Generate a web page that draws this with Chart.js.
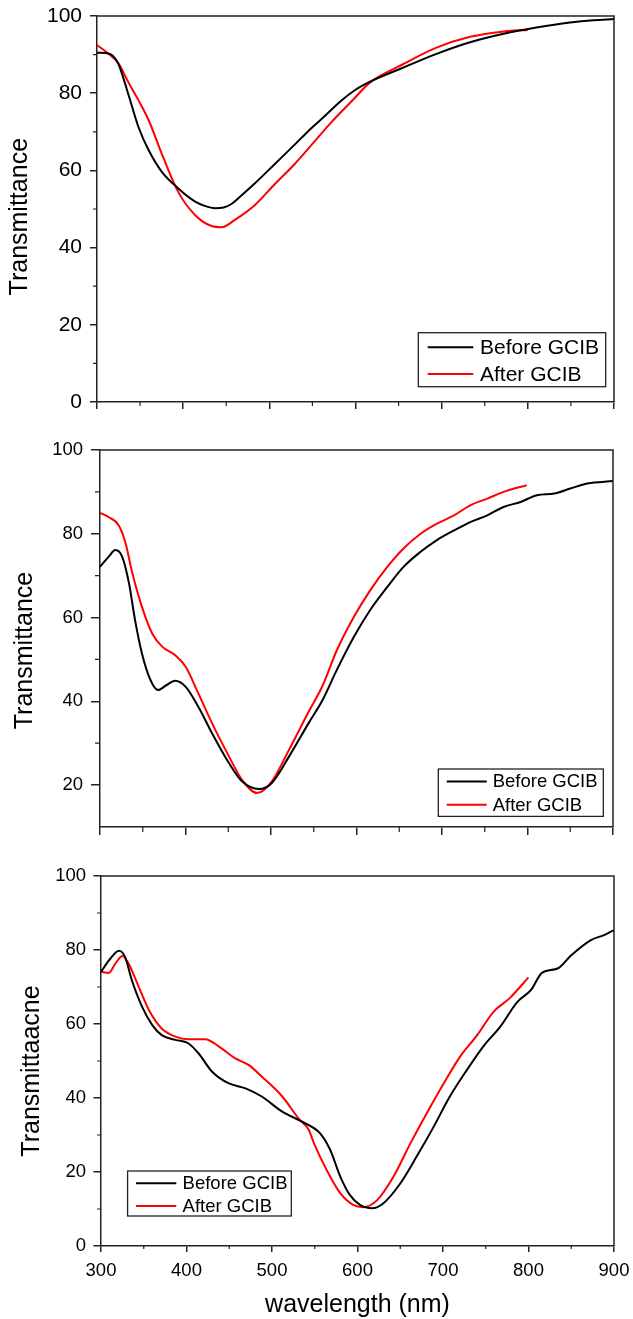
<!DOCTYPE html>
<html>
<head>
<meta charset="utf-8">
<script src="https://cdn.jsdelivr.net/npm/chart.js@4.4.0/dist/chart.umd.min.js"></script>
<style>
  html,body{margin:0;padding:0;background:#fff;}
  body{width:633px;height:1319px;position:relative;overflow:hidden;}
  canvas{position:absolute;left:0;}
</style>
</head>
<body>
<canvas id="c1" width="633" height="420" style="top:0px"></canvas>
<canvas id="c2" width="633" height="420" style="top:420px"></canvas>
<canvas id="c3" width="633" height="479" style="top:840px"></canvas>
<script>
// ---------- DATA ----------
const seriesLabels = ["Before GCIB", "After GCIB"];
const yTitles = ["Transmittance", "Transmittance", "Transmittaacne"];
const xTitle = "wavelength (nm)";
const xTickLabels = [300, 400, 500, 600, 700, 800, 900];
const yTickLabelsFull = [0, 20, 40, 60, 80, 100];
const yTickLabelsMid = [20, 40, 60, 80, 100];

// Panel 1
const p1BeforeWl = [300,310,318,325,336,348,360,375,394,414,425,437,447,456,464,483,507,530,549,565,582,600,617,655,694,733,772,810,849,876,900];
const p1BeforeT  = [90.5,90.4,89.8,87.5,80.0,71.3,65.2,59.7,55.4,51.9,50.8,50.2,50.4,51.3,52.8,56.6,61.8,66.8,71.0,74.2,77.8,80.9,83.0,86.6,90.2,93.2,95.4,97.0,98.3,98.9,99.2];
const p1AfterWl  = [300,313,325,336,348,360,375,394,414,433,445,460,483,507,530,549,570,598,617,655,694,733,772,800];
const p1AfterT   = [92.5,90.3,87.7,83.0,78.2,73.0,64.4,54.5,48.4,45.6,45.3,47.2,51.0,56.6,61.8,66.6,72.0,78.5,82.8,87.5,91.8,94.6,96.0,96.4];

// Panel 2
const p2BeforeWl = [300,310,318,326,334,341,349,359,368,378,388,400,415,431,451,466,486,501,521,544,560,577,597,616,636,655,675,694,714,733,753,772,792,811,831,850,870,900];
const p2BeforeT  = [72.1,74.5,76.1,74.5,68.1,59.4,51.5,45.1,42.7,43.9,44.9,43.5,38.7,32.4,25.2,20.9,19.05,20.5,26.8,34.8,40.2,47.5,55.4,61.8,67.3,72.1,75.7,78.5,80.8,82.8,84.4,86.4,87.6,89.2,89.6,90.8,92.0,92.6];
const p2AfterWl  = [300,310,322,330,337,349,361,373,388,400,415,431,451,466,484,501,521,544,560,577,597,616,636,655,675,694,714,733,753,772,799];
const p2AfterT   = [85.0,84.0,82.0,77.7,71.3,62.6,56.2,53.0,51.0,48.3,41.9,34.8,26.8,21.3,18.1,20.9,28.4,37.5,43.6,52.2,60.2,66.5,72.1,76.5,80.0,82.4,84.4,86.8,88.4,90.0,91.6];

// Panel 3
const p3BeforeWl = [300,311,321,328,336,348,360,371,387,402,414,430,449,469,488,512,535,556,568,580,591,603,617,630,650,669,689,708,728,747,767,787,803,816,834,850,873,889,900];
const p3BeforeT  = [74.1,77.7,79.8,78.2,71.9,64.7,59.7,57.0,55.7,54.8,52.1,47.1,44.0,42.6,40.4,36.3,33.6,30.5,26.0,18.7,13.8,11.1,10.2,11.5,16.9,24.1,32.2,40.4,47.6,53.9,59.3,66.0,69.2,73.9,75.0,78.6,82.7,84.1,85.4];
const p3AfterWl  = [300,309,317,325,332,344,356,371,387,402,422,438,457,473,488,512,531,543,549,564,580,595,607,623,642,662,681,701,720,740,759,778,800];
const p3AfterT   = [74.1,73.8,76.4,78.4,76.4,70.1,63.8,58.8,56.6,55.9,55.9,53.9,50.7,48.9,45.8,40.4,34.5,31.4,27.8,20.5,14.2,11.1,10.5,12.4,18.7,27.8,35.9,44.0,51.2,57.0,63.3,67.0,72.6];

// ---------- HELPERS ----------
const FONT = "'Liberation Sans', Arial, Helvetica, sans-serif";
const AXIS_COLOR = '#222';
const pts = (xs, ys) => xs.map((x, i) => ({x: x, y: ys[i]}));

const framePlugin = {
  id: 'frame',
  afterDraw(chart, args, opts) {
    const a = chart.chartArea, ctx = chart.ctx;
    ctx.save();
    ctx.strokeStyle = AXIS_COLOR;
    ctx.lineWidth = 1.5;
    ctx.beginPath();
    ctx.moveTo(a.left, a.top); ctx.lineTo(a.right, a.top); ctx.lineTo(a.right, a.bottom);
    ctx.stroke();
    const xs = chart.scales.x, ys = chart.scales.y;
    ctx.lineWidth = 1.2;
    ctx.beginPath();
    for (let v = xs.min + opts.xMinorStep; v < xs.max; v += opts.xMinorStep) {
      if (Math.abs(v % opts.xMajorStep) < 1e-6) continue;
      const px = xs.getPixelForValue(v);
      ctx.moveTo(px, a.bottom); ctx.lineTo(px, a.bottom + opts.xMinorLen);
    }
    for (let v = ys.min; v < ys.max; v += opts.yMinorStep) {
      if (Math.abs(v % opts.yMajorStep) < 1e-6 || v === ys.min) continue;
      const py = ys.getPixelForValue(v);
      ctx.moveTo(a.left, py); ctx.lineTo(a.left - opts.yMinorLen, py);
    }
    ctx.stroke();
    ctx.fillStyle = '#000';
    ctx.font = opts.yTitleSize + 'px ' + FONT;
    ctx.textAlign = 'center';
    ctx.textBaseline = 'middle';
    ctx.translate(opts.yTitleX, (a.top + a.bottom) / 2 + opts.yTitleDy);
    ctx.rotate(-Math.PI / 2);
    ctx.fillText(opts.yTitle, 0, 0);
    ctx.restore();
  }
};

const boxLegendPlugin = {
  id: 'boxLegend',
  afterDraw(chart, args, o) {
    const a = chart.chartArea, ctx = chart.ctx;
    const bx = (o.anchorX === 'right' ? a.right : a.left) + o.dx;
    const by = a.bottom + o.dy;
    ctx.save();
    ctx.fillStyle = '#fff';
    ctx.fillRect(bx, by, o.w, o.h);
    ctx.strokeStyle = AXIS_COLOR;
    ctx.lineWidth = 1.3;
    ctx.strokeRect(bx, by, o.w, o.h);
    ctx.font = o.fontSize + 'px ' + FONT;
    ctx.textBaseline = 'middle';
    ctx.textAlign = 'left';
    chart.data.datasets.forEach((ds, i) => {
      const ry = by + o.rows[i];
      ctx.strokeStyle = ds.borderColor;
      ctx.lineWidth = 2;
      ctx.beginPath();
      ctx.moveTo(bx + o.lineFrom, ry); ctx.lineTo(bx + o.lineTo, ry);
      ctx.stroke();
      ctx.fillStyle = '#000';
      ctx.fillText(ds.label, bx + o.textX, ry + 1);
    });
    ctx.restore();
  }
};

function makePanel(id, cfg) {
  const datasets = [
    {label: seriesLabels[0], data: cfg.before, borderColor: '#000000'},
    {label: seriesLabels[1], data: cfg.after, borderColor: '#ff0000'}
  ].map(d => Object.assign(d, {borderWidth: 2, pointRadius: 0, fill: false, cubicInterpolationMode: 'monotone'}));

  return new Chart(document.getElementById(id), {
    type: 'line',
    data: {datasets},
    plugins: [framePlugin, boxLegendPlugin],
    options: {
      responsive: false,
      animation: false,
      events: [],
      layout: {autoPadding: false, padding: {top: cfg.padTop, right: cfg.padRight, left: 0, bottom: 0}},
      plugins: {
        legend: {display: false},
        tooltip: {enabled: false},
        frame: cfg.frame,
        boxLegend: cfg.legend
      },
      scales: {
        x: {
          type: 'linear', min: 300, max: 900,
          afterBuildTicks: s => { s.ticks = xTickLabels.map(v => ({value: v})); },
          afterFit: s => { s.height = cfg.xHeight; s.paddingLeft = 0; s.paddingRight = 0; s.paddingTop = 0; s.paddingBottom = 0; },
          border: {display: true, color: AXIS_COLOR, width: 1.5},
          grid: {drawOnChartArea: false, drawTicks: true, tickLength: cfg.xTickLen, color: AXIS_COLOR, lineWidth: 1.5},
          ticks: {display: cfg.xLabels, color: '#000', padding: cfg.xTickPad, maxRotation: 0, autoSkip: false,
                  font: {family: FONT, size: cfg.tickFont}},
          title: {display: cfg.xLabels, text: xTitle, color: '#000', padding: {top: 0, bottom: -1},
                  font: {family: FONT, size: 25, lineHeight: 1.2}}
        },
        y: {
          type: 'linear', min: cfg.yMin, max: 100,
          afterBuildTicks: s => { s.ticks = cfg.yTicks.map(v => ({value: v})); },
          afterFit: s => { s.width = cfg.yWidth; s.paddingTop = 0; s.paddingBottom = 0; s.paddingLeft = 0; s.paddingRight = 0; },
          border: {display: true, color: AXIS_COLOR, width: 1.5},
          grid: {drawOnChartArea: false, drawTicks: true, tickLength: cfg.yTickLen, color: AXIS_COLOR, lineWidth: 1.5},
          ticks: {color: '#000', padding: cfg.yTickPad, autoSkip: false, font: {family: FONT, size: cfg.tickFont}}
        }
      }
    }
  });
}

makePanel('c1', {
  before: pts(p1BeforeWl, p1BeforeT), after: pts(p1AfterWl, p1AfterT),
  padTop: 16, padRight: 19, yWidth: 97, xHeight: 18, yMin: 0, yTicks: yTickLabelsFull,
  xLabels: false, xTickLen: 7, xTickPad: 4, yTickLen: 7, yTickPad: 8, tickFont: 21,
  frame: {xMinorStep: 50, xMajorStep: 100, xMinorLen: 4, yMinorStep: 10, yMajorStep: 20, yMinorLen: 4,
          yTitle: yTitles[0], yTitleSize: 25, yTitleX: 20, yTitleDy: 7.7},
  legend: {anchorX: 'right', dx: -195.7, dy: -69.3, w: 187.4, h: 54, lineFrom: 9.4, lineTo: 55, textX: 61.7,
           rows: [14.6, 41.3], fontSize: 21}
});

makePanel('c2', {
  before: pts(p2BeforeWl, p2BeforeT), after: pts(p2AfterWl, p2AfterT),
  padTop: 30, padRight: 20, yWidth: 100, xHeight: 13, yMin: 10, yTicks: yTickLabelsMid,
  xLabels: false, xTickLen: 8, xTickPad: 4, yTickLen: 9, yTickPad: 8, tickFont: 18.5,
  frame: {xMinorStep: 50, xMajorStep: 100, xMinorLen: 5, yMinorStep: 10, yMajorStep: 20, yMinorLen: 5,
          yTitle: yTitles[1], yTitleSize: 25, yTitleX: 25, yTitleDy: 12},
  legend: {anchorX: 'right', dx: -174.7, dy: -58, w: 165, h: 47.4, lineFrom: 8.4, lineTo: 48.4, textX: 54.4,
           rows: [12.4, 35.7], fontSize: 18.5}
});

makePanel('c3', {
  before: pts(p3BeforeWl, p3BeforeT), after: pts(p3AfterWl, p3AfterT),
  padTop: 36, padRight: 19, yWidth: 101, xHeight: 73, yMin: 0, yTicks: yTickLabelsFull,
  xLabels: true, xTickLen: 6, xTickPad: 7.6, yTickLen: 7.5, yTickPad: 7.5, tickFont: 18.5,
  frame: {xMinorStep: 50, xMajorStep: 100, xMinorLen: 3, yMinorStep: 10, yMajorStep: 20, yMinorLen: 4,
          yTitle: yTitles[2], yTitleSize: 25, yTitleX: 31.7, yTitleDy: 10},
  legend: {anchorX: 'left', dx: 26.6, dy: -75, w: 163.7, h: 45, lineFrom: 8.4, lineTo: 48.7, textX: 55,
           rows: [12.3, 35], fontSize: 18.5}
});
</script>
</body>
</html>
